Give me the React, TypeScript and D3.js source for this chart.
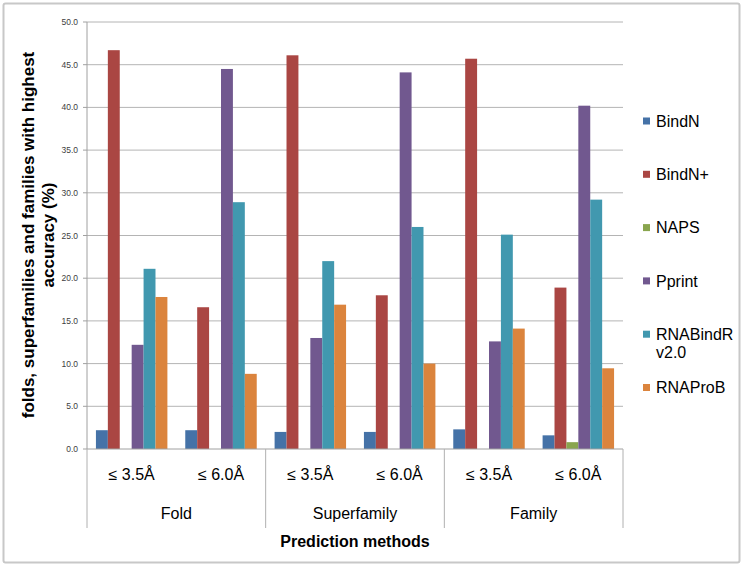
import React from "react";
import * as d3 from "d3";

const seriesNames = ["BindN", "BindN+", "NAPS", "Pprint", "RNABindR\nv2.0", "RNAProB"];
const seriesColors = ["#4572A7", "#AA4643", "#89A54E", "#71588F", "#4198AF", "#DB843D"];
const subLabels = ["≤ 3.5Å", "≤ 6.0Å", "≤ 3.5Å", "≤ 6.0Å", "≤ 3.5Å", "≤ 6.0Å"];
const categories = ["Fold", "Superfamily", "Family"];
const BindN = [2.2, 2.2, 2.0, 2.0, 2.3, 1.6];
const BindNPlus = [46.7, 16.6, 46.1, 18.0, 45.7, 18.9];
const NAPS = [0, 0, 0, 0, 0, 0.8];
const Pprint = [12.2, 44.5, 13.0, 44.1, 12.6, 40.2];
const RNABindR = [21.1, 28.9, 22.0, 26.0, 25.1, 29.2];
const RNAProB = [17.8, 8.8, 16.9, 10.0, 14.1, 9.45];
const seriesValues = [BindN, BindNPlus, NAPS, Pprint, RNABindR, RNAProB];
const yTicks = d3.range(0, 50.001, 5);

export default function App() {
  const W = 744, H = 567;
  const left = 87, right = 623, top = 22, bottom = 449;
  const groups = d3.range(subLabels.length).map(String);
  const x = d3.scaleBand().domain(groups).range([left, right]).paddingInner(0).paddingOuter(0);
  const xs = d3.scaleBand().domain(seriesNames).range([0, x.bandwidth()]).paddingInner(0).paddingOuter(0.75);
  const y = d3.scaleLinear().domain([0, 50]).range([bottom, top]);
  const fmt = d3.format(".1f");
  const font = "'Liberation Sans', Arial, sans-serif";
  const legendStep = 53.3;
  const catW = (right - left) / categories.length;

  return (
    <svg width={W} height={H} style={{ position: "absolute", left: 0, top: 0, background: "#fff" }} fontFamily={font}>
      <rect x={3.5} y={3.5} width={736} height={559} fill="#fff" stroke="#c8c8c8" strokeWidth={2} rx={2} />
      {yTicks.map((t) => (
        <g key={t}>
          {t > 0 && <line x1={left} x2={right} y1={y(t)} y2={y(t)} stroke="#b4b4b4" strokeWidth={1} />}
          <line x1={left - 4} x2={left} y1={y(t)} y2={y(t)} stroke="#a0a0a0" />
          <text x={78} y={y(t) + 3} textAnchor="end" fontSize={8.5} fill="#404040">{fmt(t)}</text>
        </g>
      ))}
      {seriesValues.map((vals, si) =>
        vals.map((v, gi) => (
          <rect
            key={si + "-" + gi}
            x={(x(String(gi)) as number) + (xs(seriesNames[si]) as number)}
            y={y(v)}
            width={xs.bandwidth()}
            height={bottom - y(v)}
            fill={seriesColors[si]}
          />
        ))
      )}
      <line x1={left} x2={left} y1={top} y2={bottom} stroke="#a0a0a0" />
      <line x1={left} x2={right} y1={bottom} y2={bottom} stroke="#a0a0a0" />
      {d3.range(categories.length + 1).map((i) => (
        <line key={i} x1={left + i * catW} x2={left + i * catW} y1={bottom} y2={528} stroke="#b0b0b0" />
      ))}
      {subLabels.map((s, i) => (
        <text key={i} x={(x(String(i)) as number) + x.bandwidth() / 2} y={480} textAnchor="middle" fontSize={16} fill="#000">{s}</text>
      ))}
      {categories.map((c, i) => (
        <text key={c} x={left + (i + 0.5) * catW} y={519} textAnchor="middle" fontSize={16} fill="#000">{c}</text>
      ))}
      <text x={(left + right) / 2} y={547} textAnchor="middle" fontSize={16} fontWeight="bold" fill="#000">Prediction methods</text>
      <text transform="translate(34,235) rotate(-90)" textAnchor="middle" fontSize={17} fontWeight="bold" fill="#000">
        <tspan x={0} dy={0}>folds, superfamilies and families with highest</tspan>
        <tspan x={0} dy={20}>accuracy (%)</tspan>
      </text>
      {seriesNames.map((n, i) => {
        const cy = 121 + i * legendStep;
        const lines = n.split("\n");
        return (
          <g key={n}>
            <rect x={643} y={cy - 3.5} width={7} height={7} fill={seriesColors[i]} />
            <text x={656} y={cy + 5.7} fontSize={16} fill="#000">
              {lines.map((l, li) => (
                <tspan key={li} x={656} dy={li === 0 ? 0 : 18}>{l}</tspan>
              ))}
            </text>
          </g>
        );
      })}
    </svg>
  );
}
